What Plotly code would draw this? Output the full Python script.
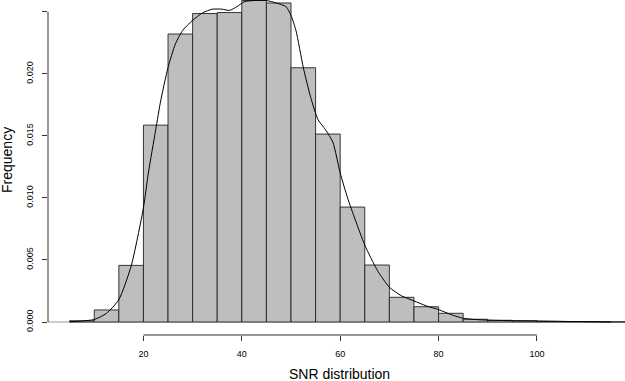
import plotly.graph_objects as go

# Histogram (density scale), bins of width 5
bin_left = [5, 10, 15, 20, 25, 30, 35, 40, 45, 50, 55, 60, 65, 70, 75, 80, 85, 90, 95, 100, 105, 110, 115]
bin_density = [0.0001, 0.00097, 0.00456, 0.01586, 0.0232, 0.02485, 0.02493, 0.0259, 0.0257, 0.02048,
               0.01514, 0.00926, 0.00459, 0.00199, 0.00123, 0.0007, 0.00022, 0.00014, 0.0001,
               0.00005, 0.00003, 0.00002, 0.00001]
bin_width = 5

# Kernel density estimate curve
dens_x = [5, 7.5, 10, 12.5, 15, 17.5, 20, 21, 22.5, 23.5, 25, 26.5, 28, 30, 32, 34, 36, 37.5, 39,
          40.5, 42.5, 45, 47, 49, 50, 51, 52.5, 54, 55.5, 57, 58.5, 60, 61.5, 63, 65, 67.5, 70,
          72.5, 75, 77.5, 80, 82.5, 85, 87.5, 90, 95, 100, 105, 110, 115]
dens_y = [0.00002, 0.00008, 0.0002, 0.0007, 0.0018, 0.0045, 0.0092, 0.0120, 0.0155, 0.0178, 0.0205,
          0.0224, 0.0235, 0.0243, 0.0249, 0.0252, 0.0252, 0.0251, 0.0254, 0.0258, 0.0259, 0.0259,
          0.0257, 0.0254, 0.0247, 0.0235, 0.0205, 0.0181, 0.0163, 0.0155, 0.0145, 0.0120, 0.0100,
          0.0083, 0.0062, 0.0042, 0.0028, 0.0021, 0.0017, 0.0013, 0.0010, 0.0006, 0.0003, 0.0002,
          0.00015, 0.0001, 0.00008, 0.00005, 0.00003, 0.0]

x_ticks = [20, 40, 60, 80, 100]
y_ticks = [0.000, 0.005, 0.010, 0.015, 0.020, 0.025]
y_tick_labels = ["0.000", "0.005", "0.010", "0.015", "0.020", "0.025"]

bin_centers = [b + bin_width / 2 for b in bin_left]

fig = go.Figure()
fig.add_trace(go.Bar(
    x=bin_centers, y=bin_density, width=[bin_width] * len(bin_left),
    marker=dict(color="#BEBEBE", line=dict(color="#222222", width=0.9)),
    showlegend=False, hoverinfo="skip",
))
fig.add_trace(go.Scatter(
    x=dens_x, y=dens_y, mode="lines",
    line=dict(color="#000000", width=1, shape="spline", smoothing=0.6),
    showlegend=False, hoverinfo="skip",
))

font_family = "Liberation Sans, Arial, Helvetica, sans-serif"

shapes = [
    dict(type="line", xref="paper", yref="y", x0=0, x1=1, y0=0, y1=0,
         line=dict(color="#9a9a9a", width=1), layer="below"),
    dict(type="line", xref="paper", yref="y", x0=0, x1=0, y0=y_ticks[0], y1=y_ticks[-1],
         line=dict(color="#333333", width=1)),
    dict(type="line", xref="x", yref="paper", x0=x_ticks[0], x1=x_ticks[-1], y0=0, y1=0,
         line=dict(color="#333333", width=1)),
]

fig.update_layout(
    template="none",
    width=625, height=381,
    margin=dict(l=48, r=0, t=0, b=46, pad=0, autoexpand=False),
    paper_bgcolor="white", plot_bgcolor="white",
    bargap=0,
    font=dict(family=font_family, color="#000000"),
    shapes=shapes,
    xaxis=dict(range=[0.6, 117.9], tickvals=x_ticks, ticktext=[str(v) for v in x_ticks],
               ticks="outside", ticklen=5, tickcolor="#333333", tickwidth=1,
               showgrid=False, zeroline=False, showline=False, automargin=False,
               tickfont=dict(size=9, family=font_family), ticklabelstandoff=5),
    yaxis=dict(range=[-0.001047, 0.02594], tickvals=y_ticks, ticktext=y_tick_labels,
               ticks="outside", ticklen=5, tickcolor="#333333", tickwidth=1,
               tickangle=-90, showgrid=False, zeroline=False, showline=False, automargin=False,
               tickfont=dict(size=9, family=font_family), ticklabelstandoff=5),
    annotations=[
        dict(text="Frequency", xref="paper", yref="paper", x=(7 - 48) / 577, y=(335 - 160) / 335,
             xanchor="center", yanchor="middle", textangle=-90, showarrow=False,
             font=dict(size=14, family=font_family)),
        dict(text="SNR distribution", xref="paper", yref="paper", x=(340 - 48) / 577, y=-(374 - 335) / 335,
             xanchor="center", yanchor="middle", showarrow=False,
             font=dict(size=14, family=font_family)),
    ],
)

fig.write_html("out.html", config={"displayModeBar": False, "staticPlot": True},
               post_script="document.body.style.margin='0';document.body.style.overflow='hidden';")
